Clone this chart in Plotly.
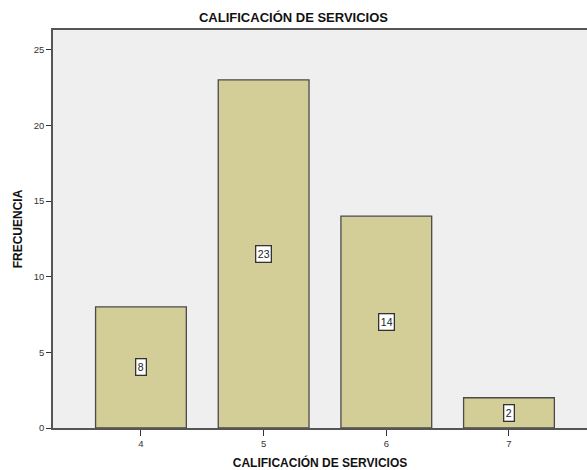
import plotly.graph_objects as go

# Frequency of service ratings
calificacion = [4, 5, 6, 7]
frecuencia = [8, 23, 14, 2]
tick_labels = ["4", "5", "6", "7"]

bar_fill = "#D3CE97"
edge = "#4a4a4a"

fig = go.Figure()
fig.add_trace(go.Bar(
    x=calificacion,
    y=frecuencia,
    width=0.74,
    marker=dict(color=bar_fill, line=dict(color=edge, width=1.3)),
    hoverinfo="x+y",
))

# value labels boxed in the middle of each bar
for xv, yv in zip(calificacion, frecuencia):
    fig.add_annotation(
        x=xv, y=yv / 2, text=str(yv), showarrow=False,
        font=dict(family="Arial, Liberation Sans, sans-serif", size=10.5, color="#222"),
        bgcolor="white", bordercolor="#333", borderwidth=1.3, borderpad=1.5,
    )

fig.update_layout(
    width=587, height=470,
    margin=dict(l=53, r=0, t=30, b=42),
    paper_bgcolor="white",
    plot_bgcolor="#EFEFEF",
    showlegend=False,
    title=dict(
        text="<b>CALIFICACIÓN DE SERVICIOS</b>",
        x=0.5, xanchor="center", y=1 - 17 / 470, yanchor="middle",
        font=dict(family="Arial, Liberation Sans, sans-serif", size=13, color="#111"),
    ),
    font=dict(family="Arial, Liberation Sans, sans-serif", size=9, color="#333"),
)

fig.update_xaxes(
    range=[3.283, 7.636],
    tickmode="array", tickvals=calificacion, ticktext=tick_labels,
    ticks="outside", ticklen=6, tickcolor="#333", tickwidth=1,
    showgrid=False, zeroline=False,
    showline=True, linecolor="#555", linewidth=1.5, mirror=True,
    title=dict(text="<b>CALIFICACIÓN DE SERVICIOS</b>", standoff=12,
               font=dict(family="Arial, Liberation Sans, sans-serif", size=12, color="#111")),
    tickfont=dict(size=9.5, color="#333"),
)
fig.update_yaxes(
    range=[0, 26.3],
    tickvals=[0, 5, 10, 15, 20, 25],
    ticks="outside", ticklen=5, tickcolor="#333", tickwidth=1,
    showgrid=False, zeroline=False,
    showline=True, linecolor="#555", linewidth=1.5,
    title=dict(text="<b>FRECUENCIA</b>", standoff=9,
               font=dict(family="Arial, Liberation Sans, sans-serif", size=12, color="#111")),
    tickfont=dict(size=9.5, color="#333"),
)

fig.write_html("out.html")
